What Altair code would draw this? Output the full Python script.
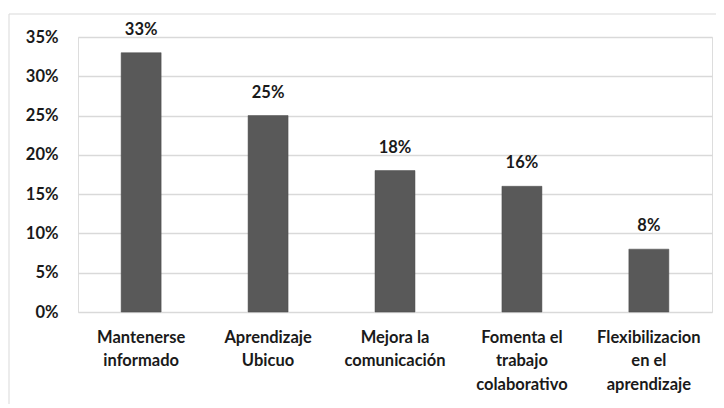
import altair as alt
import pandas as pd

categories = [
    "Mantenerse\ninformado",
    "Aprendizaje\nUbicuo",
    "Mejora la\ncomunicación",
    "Fomenta el\ntrabajo\ncolaborativo",
    "Flexibilizacion\nen el\naprendizaje",
]
values = [33, 25, 18, 16, 8]
y_ticks = [0, 5, 10, 15, 20, 25, 30, 35]

df = pd.DataFrame({"cat": categories, "val": values})
df["label"] = [f"{v}%" for v in values]

FONT = "Lato"
FS = 16.5

base = alt.Chart(df).encode(
    x=alt.X(
        "cat:N",
        sort=categories,
        title=None,
        scale=alt.Scale(paddingInner=0.685, paddingOuter=0.34),
        axis=alt.Axis(
            labelExpr="split(datum.label, '\\n')",
            labelAngle=0,
            labelFont=FONT,
            labelFontSize=FS,
            labelFontWeight="bold",
            labelColor="#1a1a1a",
            labelPadding=17,
            labelLineHeight=23.5,
            ticks=False,
            domain=False,
            grid=False,
        ),
    ),
    y=alt.Y(
        "val:Q",
        title=None,
        scale=alt.Scale(domain=[0, 35], nice=False),
        axis=alt.Axis(
            values=y_ticks,
            labelExpr="datum.value + '%'",
            labelFont=FONT,
            labelFontSize=FS,
            labelFontWeight="bold",
            labelColor="#1a1a1a",
            labelPadding=20,
            ticks=False,
            domain=False,
            grid=True,
            gridColor="#d9d9d9",
            gridWidth=1.3,
        ),
    ),
)

bars = base.mark_bar(color="#595959", stroke="#4a4a4a", strokeWidth=0.5)
texts = base.mark_text(
    baseline="bottom",
    dy=-15,
    font=FONT,
    fontSize=FS,
    fontWeight="bold",
    color="#1a1a1a",
).encode(text="label:N")

frame = alt.Chart(pd.DataFrame({"a": [0]})).mark_rect(
    fill=None, stroke="#d9d9d9", strokeWidth=1
).encode(
    x=alt.value(-69), x2=alt.value(800), y=alt.value(-23), y2=alt.value(500)
)

chart = (
    alt.layer(frame, bars, texts)
    .properties(
        width=634,
        height=275,
        autosize=alt.AutoSizeParams(type="none"),
        padding={"left": 70, "top": 29, "right": 4, "bottom": 92},
    )
    .configure_view(stroke=None)
    .configure(background="white")
)

chart.save("out.html", embed_options={"renderer": "svg", "actions": False})
